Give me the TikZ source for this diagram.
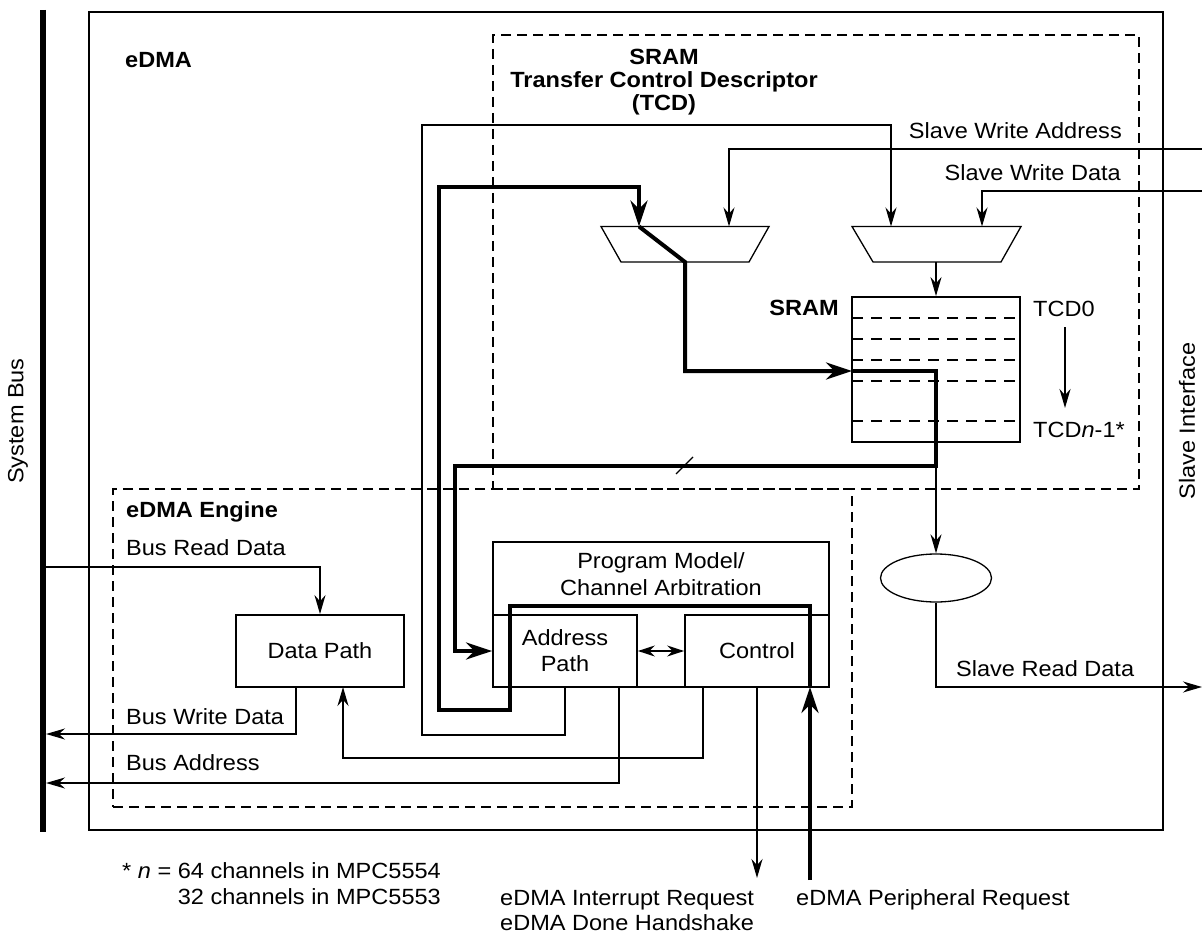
\documentclass[tikz,border=0pt]{standalone}
\usepackage{fontspec}
\setmainfont{Liberation Sans}[FakeStretch=1.07]
\usetikzlibrary{arrows.meta,shapes.geometric}
\begin{document}
\begin{tikzpicture}[x=1pt,y=-1pt,
  font=\fontsize{22}{26}\selectfont,
  wire/.style={line width=1.8pt},
  heavy/.style={line width=4pt},
  tipA/.style={-{Stealth[length=19pt,width=11pt]}},
  tipB/.style={-{Stealth[length=26pt,width=17pt]}},
  tipAA/.style={{Stealth[length=17pt,width=11pt]}-{Stealth[length=17pt,width=11pt]}},
  box/.style={draw,line width=1.8pt,inner sep=0pt},
  dbox/.style={draw,line width=1.8pt,dash pattern=on 10pt off 6pt,inner sep=0pt},
  sdash/.style={line width=1.6pt,dash pattern=on 11pt off 8pt},
  lbl/.style={inner sep=0pt},
  blbl/.style={inner sep=0pt,font=\fontsize{22}{23}\selectfont\bfseries},
  mux/.style={draw,line width=1.3pt}
]
\useasboundingbox (0,0) rectangle (1202,936);

% system bus and outer box
\coordinate (busT) at (43,10);
\coordinate (busB) at (43,832);
\draw[line width=5.5pt] (busT) -- (busB);
\node[lbl,rotate=90] (sysbus) at (18,421) {System Bus};
\node[box,minimum width=1074pt,minimum height=818pt] (edma) at (626,421) {};
\node[lbl,rotate=90] (slif) at (1187,421) {Slave Interface};
\node[blbl,anchor=west] (edmalbl) at (125,60) {eDMA};

% TCD region
\node[dbox,minimum width=646pt,minimum height=454pt] (tcdbox) at (816,262) {};
\node[blbl,align=center] (tcdt) at (664,82) {SRAM\\Transfer Control Descriptor\\(TCD)};

% engine region
\node[dbox,minimum width=739pt,minimum height=318pt] (engbox) at (482.5,648) {};
\node[blbl,anchor=west] (englbl) at (126,512) {eDMA Engine};

% muxes
\coordinate (m1tl) at (601,226.5); \coordinate (m1tr) at (769,226.5);
\coordinate (m1br) at (749,262);   \coordinate (m1bl) at (621,262);
\draw[mux] (m1tl) -- (m1tr) -- (m1br) -- (m1bl) -- cycle;
\coordinate (m2tl) at (852,226.5); \coordinate (m2tr) at (1021,226.5);
\coordinate (m2br) at (1001,262);  \coordinate (m2bl) at (873,262);
\draw[mux] (m2tl) -- (m2tr) -- (m2br) -- (m2bl) -- cycle;
\coordinate (m1a) at (639,226.5);
\coordinate (m1b) at (729,226.5);
\coordinate (m2a) at (891,226.5);
\coordinate (m2b) at (982,226.5);
\coordinate (m2o) at (936,262);

% SRAM
\node[box,minimum width=168pt,minimum height=145pt] (sram) at (936,369.5) {};
\foreach \yy in {318,339,360,381,421} \draw[sdash] (852,\yy) -- (1020,\yy);
\node[blbl,anchor=east] (sramlbl) at (839,308) {SRAM};
\node[lbl,anchor=west] (tcd0) at (1033,309) {TCD0};
\node[lbl,anchor=west] (tcdn) at (1033,430) {TCD\textit{n}-1*};
\coordinate (tcdA) at (1065,327);
\coordinate (tcdB) at (1065,408);
\draw[wire,tipA] (tcdA) -- (tcdB);
\draw[wire,tipA] (m2o) -- (sram.north);

% slave side
\coordinate (swa) at (1202,149);
\coordinate (swd) at (1202,191);
\draw[wire,tipA] (swa) -| (m1b);
\draw[wire,tipA] (swd) -| (m2b);
\node[lbl,anchor=east] (swalbl) at (1122,131) {Slave Write Address};
\node[lbl,anchor=east] (swdlbl) at (1121,173) {Slave Write Data};
\node[draw,ellipse,line width=1.3pt,minimum width=111pt,minimum height=48pt,inner sep=0pt] (ell) at (936,578) {};
\draw[wire,tipA] (sram.south) -- (ell.north);
\coordinate (srd) at (1202,687);
\draw[wire,tipA] (ell.south) |- (srd);
\node[lbl,anchor=west] (srdlbl) at (956,669) {Slave Read Data};

% engine blocks
\node[box,minimum width=336pt,minimum height=145pt] (pm) at (661,614.5) {};
\node[lbl,align=center,font=\fontsize{22}{27}\selectfont] (pmlbl) at (661,574.5) {Program Model/\\Channel Arbitration};
\node[box,align=center,minimum width=144pt,minimum height=72pt,font=\fontsize{22}{26}\selectfont] (ap) at (565,651) {Address\\Path};
\node[box,minimum width=144pt,minimum height=72pt] (ctl) at (757,651) {Control};
\draw[wire,tipAA] (ap.east) -- (ctl.west);
\node[box,minimum width=168pt,minimum height=72pt] (dp) at (320,651) {Data Path};

% bus connections
\coordinate (brd) at (43,567);
\draw[wire,tipA] (brd) -| (dp.north);
\node[lbl,anchor=west] (brdlbl) at (126,548) {Bus Read Data};
\coordinate (dpw) at (296,687);
\coordinate (bwd) at (46,734);
\draw[wire,tipA] (dpw) |- (bwd);
\node[lbl,anchor=west] (bwdlbl) at (126,717) {Bus Write Data};
\coordinate (apB) at (619,687);
\coordinate (ba) at (46,783);
\draw[wire,tipA] (apB) |- (ba);
\node[lbl,anchor=west] (balbl) at (126,763) {Bus Address};
\coordinate (ctlA) at (703,687);
\coordinate (dpB) at (343,687);
\draw[wire,tipA] (ctlA) -- ++(0,71) -| (dpB);

% thin address loop
\draw[wire,tipA] (ap.south) -- (565,735) -- (422,735) -- (422,125) -| (m2a);

% thick path
\coordinate (pr) at (810,880);
\coordinate (ctlp) at (810,687);
\draw[heavy,tipB] (pr) -- (ctlp);
\draw[heavy,tipB] (ctlp) -- (810,606) -- (510,606) -- (510,710) -- (439,710) -- (439,187) -- (639,187) -- (m1a);
\coordinate (sramin) at (852,371);
\draw[heavy,tipB] (m1a) -- (685,262) -- (685,371) -- (sramin);
\draw[heavy,tipB] (sramin) -- (936,371) -- (936,466) -- (455,466) -- (455,651) -- (ap.west);
\draw[line width=1.3pt] (676,474) -- (693,457);

% interrupt
\coordinate (ctlI) at (757,687);
\coordinate (irq) at (757,878);
\draw[wire,tipA] (ctlI) -- (irq);

% bottom texts
\node[lbl,anchor=north west,align=left] (fn) at (122,862) {* \textit{n} = 64 channels in MPC5554\\\phantom{* \textit{n} = }32 channels in MPC5553};
\node[lbl,anchor=west] (irqlbl1) at (500,900) {eDMA Interrupt Request};
\node[lbl,anchor=west] (irqlbl2) at (500,923) {eDMA Done Handshake};
\node[lbl,anchor=west] (prlbl) at (796,900) {eDMA Peripheral Request};
\end{tikzpicture}
\end{document}
